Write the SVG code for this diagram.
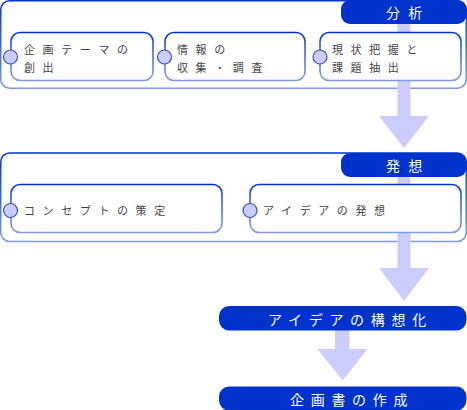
<svg xmlns="http://www.w3.org/2000/svg" width="467" height="410" viewBox="0 0 467 410">
<defs>
<linearGradient id="edge" x1="0" y1="0" x2="0" y2="1">
<stop offset="0" stop-color="#0033cc"/>
<stop offset="1" stop-color="#7f9be6"/>
</linearGradient>
<style>
.grp{fill:#ffffff;stroke:url(#edge);stroke-width:1.5}
.node{fill:#ffffff;stroke:url(#edge);stroke-width:1.5}
.port{fill:#ccccff;stroke:#3355cc;stroke-width:1.2}
.tab{fill:#0033cc}
.flow{fill:#ccccff;stroke:none}
.t{font-family:"Noto Sans CJK JP","Noto Sans",sans-serif;font-size:11px;letter-spacing:7.6px;fill:#444444}
.h{font-family:"Noto Sans CJK JP","Noto Sans",sans-serif;font-size:14px;letter-spacing:8.3px;fill:#ffffff}
.b{font-family:"Noto Sans CJK JP","Noto Sans",sans-serif;font-size:14px;letter-spacing:6.7px;fill:#ffffff}
</style>
</defs>
<rect id="bg" x="0" y="0" width="467" height="410" fill="#ffffff"/>

<g id="group-bunseki">
<rect class="grp" x="0.75" y="0.75" width="465.5" height="87.5" rx="9"/>
</g>
<g id="group-hassou">
<rect class="grp" x="0.75" y="153" width="465.5" height="88.5" rx="9"/>
</g>

<g id="connectors">
<path class="flow" d="M397.5,22 H410.5 V116 H429 L404,148 L379,116 H397.5 Z"/>
<path class="flow" d="M397.5,175 H410.5 V268 H429 L404,301 L379,268 H397.5 Z"/>
<path class="flow" d="M335,329 H349.5 V349 H367.5 L342.5,380.5 L317.5,349 H335 Z"/>
</g>

<g id="tab-bunseki">
<rect class="tab" x="341" y="0" width="125.5" height="24" rx="9"/>
<text class="h" x="386" y="17.5">分析</text>
</g>
<g id="tab-hassou">
<rect class="tab" x="341" y="153" width="125.5" height="24" rx="9"/>
<text class="h" x="386" y="170.5">発想</text>
</g>

<g id="node-kikaku-theme">
<rect class="node" x="11" y="32.5" width="142" height="48" rx="9"/>
<circle class="port" cx="10.5" cy="57" r="7"/>
<text class="t" x="24" y="54">企画テーマの</text>
<text class="t" x="24" y="71.5">創出</text>
</g>
<g id="node-jouhou">
<rect class="node" x="165" y="32.5" width="140" height="48" rx="9"/>
<circle class="port" cx="164.5" cy="57" r="7"/>
<text class="t" x="177" y="54">情報の</text>
<text class="t" x="177" y="71.5">収集・調査</text>
</g>
<g id="node-genjou">
<rect class="node" x="320" y="32.5" width="141" height="48" rx="9"/>
<circle class="port" cx="320" cy="57" r="7"/>
<text class="t" x="332" y="54">現状把握と</text>
<text class="t" x="332" y="71.5">課題抽出</text>
</g>

<g id="node-concept">
<rect class="node" x="11" y="184.5" width="211" height="48" rx="9"/>
<circle class="port" cx="10.5" cy="210.5" r="7"/>
<text class="t" x="24" y="214.5">コンセプトの策定</text>
</g>
<g id="node-idea">
<rect class="node" x="250" y="184.5" width="211" height="48" rx="9"/>
<circle class="port" cx="250" cy="210.5" r="7"/>
<text class="t" x="263" y="214.5">アイデアの発想</text>
</g>

<g id="node-kousouka">
<rect class="tab" x="219" y="306" width="247.5" height="24.5" rx="10"/>
<text class="b" x="268" y="325">アイデアの構想化</text>
</g>
<g id="node-sakusei">
<rect class="tab" x="219" y="386.5" width="247.5" height="24" rx="10"/>
<text class="b" x="290" y="405">企画書の作成</text>
</g>
</svg>
